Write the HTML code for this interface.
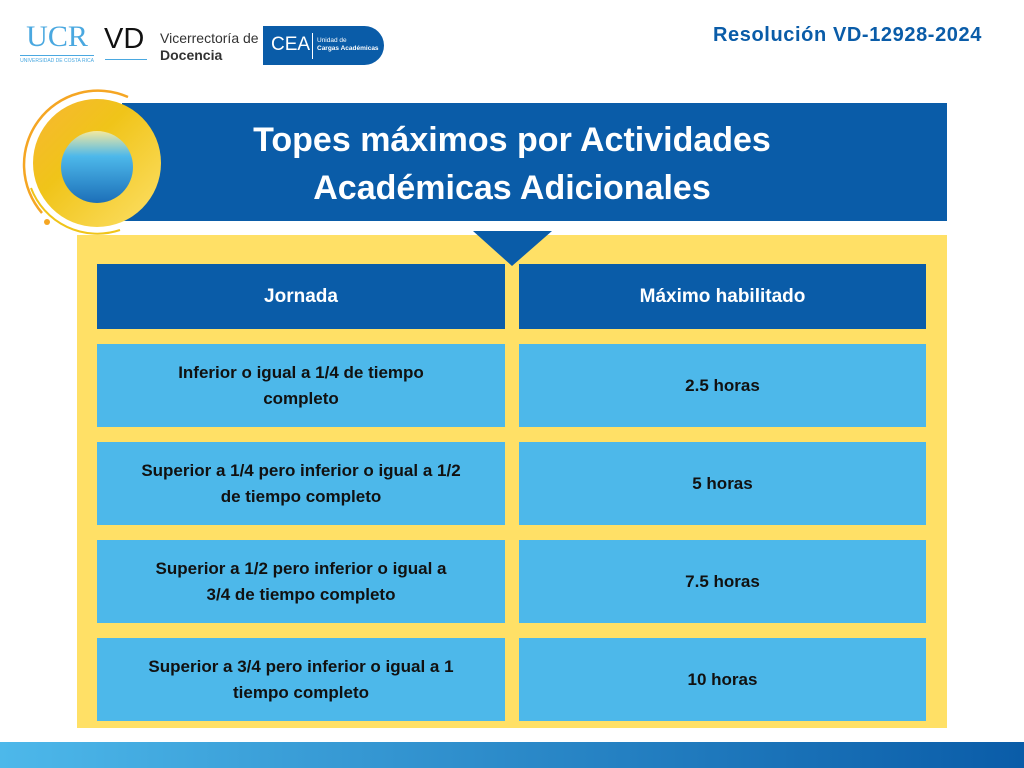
<!DOCTYPE html>
<html><head><meta charset="utf-8">
<style>
*{margin:0;padding:0;box-sizing:border-box}
body{width:1024px;height:768px;background:#fff;position:relative;overflow:hidden;font-family:"Liberation Sans",sans-serif}
.abs{position:absolute}
.cell{position:absolute;display:flex;align-items:center;justify-content:center;text-align:center;font-weight:bold;color:#111;font-size:17px;line-height:26px;padding:0 14px}
.hdr{background:#0a5ca8;color:#fff;font-size:19px}
.row{background:#4db8ea}
</style></head><body>
<div class="abs" style="left:20px;top:22px;width:74px;height:45px">
 <div style="color:#4aa8e0;font-family:'Liberation Serif',serif;font-size:30px;line-height:30px;text-align:center">UCR</div>
 <div style="border-top:1px solid #4aa8e0;margin-top:3px"></div>
 <div style="color:#4aa8e0;font-size:5px;white-space:nowrap;text-align:center;margin-top:2px">UNIVERSIDAD DE COSTA RICA</div>
</div>
<div class="abs" style="left:104px;top:24px;font-size:29px;line-height:30px;color:#111">VD</div>
<div class="abs" style="left:105px;top:59px;width:42px;border-top:1px solid #4aa8e0"></div>
<div class="abs" style="left:160px;top:30px;font-size:14px;line-height:17px;color:#333">Vicerrectoría de<br><b>Docencia</b></div>
<div class="abs" style="left:263px;top:26px;width:121px;height:39px;background:#0a5ca8;border-radius:0 20px 20px 0;color:#fff">
 <span class="abs" style="left:8px;top:8px;font-size:19px">CEA</span>
 <span class="abs" style="left:49px;top:7px;height:26px;border-left:1px solid #fff"></span>
 <span class="abs" style="left:54px;top:11px;font-size:6.5px;line-height:8px">Unidad de<br><b>Cargas Académicas</b></span>
</div>
<div class="abs" style="left:713px;top:24px;font-size:20px;font-weight:bold;color:#0a5ca8;letter-spacing:0.6px">Resolución VD-12928-2024</div>

<div class="abs" style="left:122px;top:103px;width:825px;height:118px;background:#0a5ca8"></div>
<div class="abs" style="left:122px;top:116px;width:780px;text-align:center;color:#fff;font-weight:bold;font-size:34px;line-height:48px">Topes máximos por Actividades<br>Académicas Adicionales</div>

<svg class="abs" style="left:0;top:80px" width="180" height="170">
 <defs>
  <linearGradient id="ry" x1="0" y1="0" x2="1" y2="1"><stop offset="0" stop-color="#f7b733"/><stop offset=".4" stop-color="#f0c419"/><stop offset="1" stop-color="#fde068"/></linearGradient>
  <linearGradient id="ib" x1="0" y1="0" x2="0" y2="1"><stop offset="0" stop-color="#f3e9a0"/><stop offset=".35" stop-color="#4db8ea"/><stop offset="1" stop-color="#1c6fb8"/></linearGradient>
 </defs>
 <circle cx="97" cy="83" r="64" fill="url(#ry)"/>
 <circle cx="97" cy="87" r="36" fill="url(#ib)"/>
 <path d="M128 17 A74 74 0 0 0 42 133" fill="none" stroke="#f5a623" stroke-width="2.5"/>
 <path d="M31 108 A71 71 0 0 0 120 150" fill="none" stroke="#f0c419" stroke-width="2"/>
 <circle cx="47" cy="142" r="3" fill="#f5a623"/>
</svg>

<div class="abs" style="left:77px;top:235px;width:870px;height:493px;background:#ffe066"></div>
<svg class="abs" style="left:473px;top:231px" width="80" height="36"><polygon points="0,0 79,0 39,35" fill="#0a5ca8"/></svg>

<div class="cell hdr" style="left:97px;top:264px;width:408px;height:65px">Jornada</div>
<div class="cell hdr" style="left:519px;top:264px;width:407px;height:65px">Máximo habilitado</div>

<div class="cell row" style="left:97px;top:344px;width:408px;height:83px">Inferior o igual a 1/4 de tiempo<br>completo</div>
<div class="cell row" style="left:519px;top:344px;width:407px;height:83px">2.5 horas</div>
<div class="cell row" style="left:97px;top:442px;width:408px;height:83px">Superior a 1/4 pero inferior o igual a 1/2<br>de tiempo completo</div>
<div class="cell row" style="left:519px;top:442px;width:407px;height:83px">5 horas</div>
<div class="cell row" style="left:97px;top:540px;width:408px;height:83px">Superior a 1/2 pero inferior o igual a<br>3/4 de tiempo completo</div>
<div class="cell row" style="left:519px;top:540px;width:407px;height:83px">7.5 horas</div>
<div class="cell row" style="left:97px;top:638px;width:408px;height:83px">Superior a 3/4 pero inferior o igual a 1<br>tiempo completo</div>
<div class="cell row" style="left:519px;top:638px;width:407px;height:83px">10 horas</div>

<div class="abs" style="left:0;top:742px;width:1024px;height:26px;background:linear-gradient(90deg,#4db8ea,#0a5ca8)"></div>
</body></html>
